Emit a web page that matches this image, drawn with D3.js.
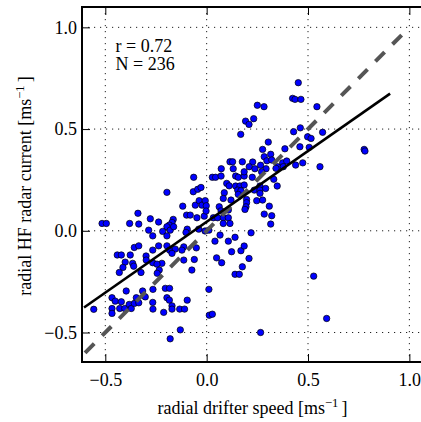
<!DOCTYPE html>
<html lang="en">
<head>
  <meta charset="UTF-8" />
  <style>
    body { margin: 0; background: #fff; }
    svg { display: block; font-family: "Liberation Serif", "DejaVu Serif", serif; }
    .grid line { stroke: #222; stroke-width: 1; stroke-dasharray: 1.2, 4.8; }
    .axis text { font-size: 18px; fill: #000; font-family: "Liberation Serif", serif; }
    .axis line { stroke: #000; stroke-width: 1; }
  </style>
  <script src="https://d3js.org/d3.v7.min.js"></script>
</head>
<body>
<script>
  // drifter speed (x) vs HF radar current (y)
  var driftSpeed = [
    -0.064, -0.196, -0.066, -0.044, -0.028, -0.339, -0.516, -0.495, -0.380, -0.335,
    -0.278, -0.237, -0.118, -0.056, -0.037, -0.023, -0.007, -0.002, -0.099, -0.081,
    -0.048, -0.012, -0.165, -0.171, -0.184, -0.196, -0.180, -0.163, -0.217, -0.286,
    -0.266, -0.196, -0.096, -0.102, -0.039, -0.357, -0.335, -0.266, -0.237, -0.196,
    -0.183, -0.155, -0.113, -0.122, -0.051, -0.441, -0.421, -0.377, -0.402, -0.365,
    -0.299, -0.298, -0.266, -0.221, -0.113, -0.061, -0.171,
    -0.360, -0.413, -0.431, -0.324, -0.245, -0.234, -0.244, -0.073, -0.557, -0.467,
    -0.451, -0.421, -0.467, -0.467, -0.429, -0.404, -0.397, -0.382, -0.372, -0.357,
    -0.347, -0.335, -0.316, -0.303, -0.265, -0.266, -0.265, -0.212, -0.204, -0.183,
    -0.196, -0.184, -0.171, -0.171, -0.133, -0.109, -0.096, -0.130, -0.180,
    0.452, 0.424, 0.436, 0.465, 0.250, 0.283, 0.544, 0.192, 0.209, 0.232,
    0.168, 0.429, 0.462, 0.498, 0.515, 0.572, 0.304, 0.276, 0.386, 0.460,
    0.506, 0.316, 0.284, 0.115, 0.128, 0.176, 0.227, 0.297, 0.321, 0.350,
    0.375, 0.395, 0.378, 0.439, 0.474, 0.210, 0.266, 0.072, 0.131, 0.238,
    0.293, 0.342, 0.559,
    0.028, 0.044, 0.071, 0.143, 0.156, 0.185, 0.185, 0.225, 0.271, 0.331,
    0.348, 0.099, 0.111, 0.143, 0.164, 0.185, 0.153, 0.169, 0.156, 0.087,
    0.235, 0.263, 0.263, 0.263, 0.291, 0.082, 0.120, 0.197, 0.197, 0.247,
    0.276, 0.194, 0.189, 0.062, 0.071, 0.107, 0.033, 0.054, 0.082, 0.107,
    0.082, 0.115, 0.284, 0.321, 0.316, -0.008, 0.011, 0.066, 0.219, 0.107,
    0.140, 0.041, 0.123, 0.169, 0.209, 0.049, 0.309, 0.185, -0.003,
    0.074, 0.176, 0.140, 0.161, 0.011, 0.013, 0.028, 0.266, 0.528, 0.592,
    0.777, 0.781
  ];
  var radarCurrent = [
    0.263, 0.189, 0.192, 0.204, 0.213, 0.086, 0.036, 0.036, 0.036, 0.033,
    0.059, 0.043, 0.121, 0.126, 0.148, 0.126, 0.148, 0.123, 0.077, 0.077,
    0.064, 0.072, 0.056, 0.041, 0.028, 0.020, 0.003, 0.020, -0.003, 0.003,
    -0.025, -0.025, 0.008, -0.008, 0.008, -0.082, -0.074, -0.095, -0.074, -0.074,
    -0.095, -0.090, -0.079, -0.095, -0.084, -0.119, -0.119, -0.119, -0.154, -0.160,
    -0.124, -0.144, -0.157, -0.160, -0.144, -0.141, -0.111,
    -0.174, -0.180, -0.205, -0.205, -0.164, -0.193, -0.209, -0.193, -0.386, -0.329,
    -0.346, -0.349, -0.382, -0.406, -0.382, -0.382, -0.296, -0.362, -0.382, -0.357,
    -0.329, -0.354, -0.296, -0.325, -0.288, -0.352, -0.385, -0.401, -0.283, -0.283,
    -0.329, -0.341, -0.369, -0.385, -0.385, -0.385, -0.341, -0.487, -0.531,
    0.728, 0.651, 0.646, 0.646, 0.617, 0.610, 0.610, 0.539, 0.523, 0.551,
    0.474, 0.487, 0.506, 0.462, 0.454, 0.484, 0.436, 0.400, 0.403, 0.413,
    0.410, 0.376, 0.364, 0.339, 0.339, 0.339, 0.338, 0.344, 0.348, 0.315,
    0.334, 0.343, 0.315, 0.323, 0.334, 0.315, 0.322, 0.305, 0.305, 0.305,
    0.305, 0.307, 0.315,
    0.263, 0.263, 0.269, 0.269, 0.263, 0.269, 0.290, 0.263, 0.290, 0.253,
    0.220, 0.233, 0.221, 0.220, 0.220, 0.225, 0.200, 0.197, 0.179, 0.187,
    0.200, 0.220, 0.200, 0.184, 0.208, 0.159, 0.151, 0.154, 0.138, 0.148,
    0.151, 0.118, 0.105, 0.118, 0.098, 0.102, 0.064, 0.064, 0.064, 0.064,
    0.036, 0.036, 0.082, 0.074, 0.033, -0.001, 0.003, -0.021, -0.010, -0.051,
    -0.032, -0.051, -0.103, -0.098, -0.136, -0.133, 0.121, -0.075, 0.097,
    -0.157, -0.177, -0.214, -0.214, -0.288, -0.415, -0.410, -0.500, -0.223, -0.431,
    0.400, 0.392
  ];

  var tickValues = [-0.5, 0.0, 0.5, 1.0];
  var tickLabels = ["\u22120.5", "0.0", "0.5", "1.0"];

  // least squares fit line and 1:1 line
  var fitSlope = 0.696, fitIntercept = 0.044, fitRange = [-0.605, 0.905];
  var oneToOneRange = [-0.6, 0.962];
  var statsText = ["r = 0.72", "N = 236"];

  var width = 421, height = 422;
  var plotLeft = 82, plotTop = 7, plotBottom = 362;

  var x = d3.scaleLinear().domain([-0.615, 1.1]).range([plotLeft, plotLeft + 1.715 * 202.7]);
  var y = d3.scaleLinear().domain([-0.645, 1.1]).range([plotBottom, plotTop]);
  var plotRight = x(1.1);

  var svg = d3.select("body").append("svg")
    .attr("width", width)
    .attr("height", height);

  // grid
  var grid = svg.append("g").attr("class", "grid");
  grid.selectAll(".gx").data(tickValues).enter().append("line")
    .attr("x1", function (d) { return x(d); })
    .attr("x2", function (d) { return x(d); })
    .attr("y1", plotTop).attr("y2", plotBottom);
  grid.selectAll(".gy").data(tickValues).enter().append("line")
    .attr("y1", function (d) { return y(d); })
    .attr("y2", function (d) { return y(d); })
    .attr("x1", plotLeft).attr("x2", plotRight);

  // scatter points
  var pts = driftSpeed.map(function (d, i) { return [d, radarCurrent[i]]; });
  svg.append("g").selectAll("circle")
    .data(pts).enter().append("circle")
    .attr("cx", function (d) { return x(d[0]); })
    .attr("cy", function (d) { return y(d[1]); })
    .attr("r", 3.2)
    .attr("fill", "#0000ff")
    .attr("stroke", "#000")
    .attr("stroke-width", 0.7);

  var line = d3.line()
    .x(function (d) { return x(d[0]); })
    .y(function (d) { return y(d[1]); });

  // 1:1 dashed line
  svg.append("path")
    .datum(oneToOneRange.map(function (v) { return [v, v]; }))
    .attr("d", line)
    .attr("fill", "none")
    .attr("stroke", "#555")
    .attr("stroke-width", 4)
    .attr("stroke-dasharray", "13,11.2");

  // regression line
  svg.append("path")
    .datum(fitRange.map(function (v) { return [v, fitIntercept + fitSlope * v]; }))
    .attr("d", line)
    .attr("fill", "none")
    .attr("stroke", "#000")
    .attr("stroke-width", 2.6);

  function clean(g) {
    g.attr("font-family", null).attr("font-size", null);
    g.select(".domain").remove();
  }

  // axes, ticks pointing inward
  svg.append("g").attr("class", "axis")
    .attr("transform", "translate(0," + plotBottom + ")")
    .call(d3.axisBottom(x).tickValues(tickValues).tickSize(-8).tickPadding(11)
      .tickFormat(function (d, i) { return tickLabels[i]; }))
    .call(clean);

  svg.append("g").attr("class", "axis")
    .attr("transform", "translate(" + plotLeft + ",0)")
    .call(d3.axisLeft(y).tickValues(tickValues).tickSize(-8).tickPadding(5)
      .tickFormat(function (d, i) { return tickLabels[i]; }))
    .call(clean);

  svg.append("g").attr("class", "axis")
    .attr("transform", "translate(0," + plotTop + ")")
    .call(d3.axisTop(x).tickValues(tickValues).tickSize(-8).tickFormat(""))
    .call(clean);

  svg.append("g").attr("class", "axis")
    .attr("transform", "translate(" + plotRight + ",0)")
    .call(d3.axisRight(y).tickValues(tickValues).tickSize(-8).tickFormat(""))
    .call(clean);

  // frame
  svg.append("rect")
    .attr("x", plotLeft).attr("y", plotTop)
    .attr("width", plotRight - plotLeft).attr("height", plotBottom - plotTop)
    .attr("fill", "none").attr("stroke", "#000").attr("stroke-width", 2);

  // r and N
  svg.selectAll(".stat").data(statsText).enter().append("text")
    .attr("x", 115.5)
    .attr("y", function (d, i) { return 51.5 + i * 18.5; })
    .style("font-size", "18px")
    .text(function (d) { return d; });

  // axis labels
  function unitLabel(sel, txt) {
    sel.append("tspan").text(txt + " [ms");
    sel.append("tspan").attr("dy", -7).style("font-size", "12.6px").text("\u22121");
    sel.append("tspan").attr("dy", 7).attr("dx", 3).text("]");
  }

  var xl = svg.append("text")
    .attr("x", 252.5).attr("y", 414)
    .attr("text-anchor", "middle")
    .style("font-size", "18px");
  unitLabel(xl, "radial drifter speed");

  var yl = svg.append("text")
    .attr("transform", "translate(31,186) rotate(-90)")
    .attr("text-anchor", "middle")
    .style("font-size", "18px");
  unitLabel(yl, "radial HF radar current");
</script>
</body>
</html>
